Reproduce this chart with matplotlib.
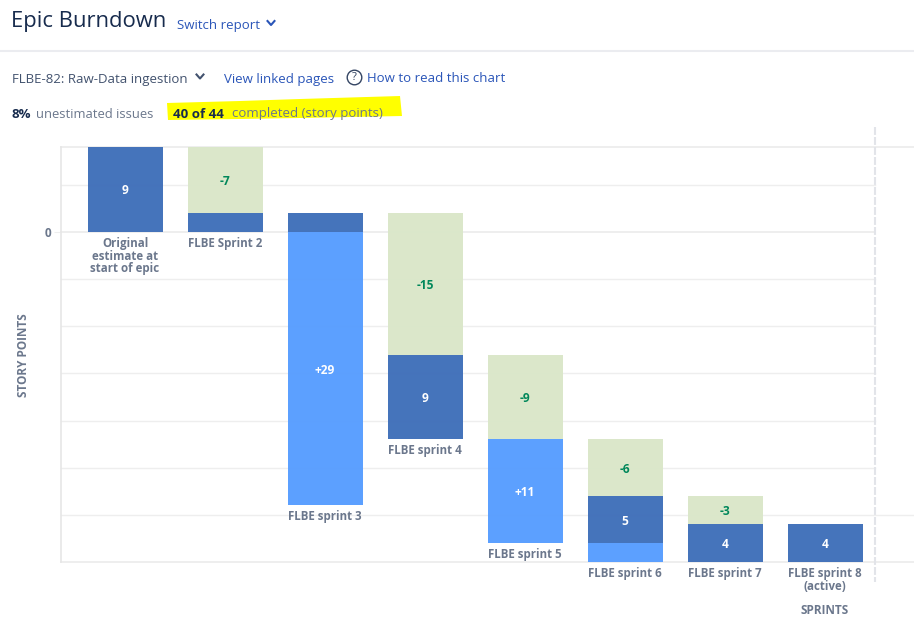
"""
Epic burndown report, waterfall of story points per sprint
"""
import matplotlib
matplotlib.use('Agg')
import matplotlib.pyplot as plt
from matplotlib.patches import Polygon
from matplotlib.lines import Line2D

W, H = 914, 627

categories = ['Original\nestimate at\nstart of epic', 'FLBE Sprint 2', 'FLBE sprint 3',
              'FLBE sprint 4', 'FLBE sprint 5', 'FLBE sprint 6', 'FLBE sprint 7',
              'FLBE sprint 8\n(active)']
top_level = [9, 9, 2, 2, -13, -22, -28, -31]
done = [0, 7, 0, 15, 9, 6, 3, 0]
remaining = [9, 2, 2, 9, 0, 5, 4, 4]
added = [0, 0, 29, 0, 11, 2, 0, 0]
y_ticks = [9, 5, 0, -5, -10, -15, -20, -25, -30, -35]

DARK = '#3f6fb9'
LIGHT = '#579dff'
GREEN = '#dae7c9'
GREEN_TXT = '#00875a'
GREY = '#6b778c'
GRID = '#eeeeee'
LINK = '#2a55b8'
NAVY = '#172b4d'
FONT = 'Open Sans'
MIN_LABEL = 3


def px(x, y):
    """ pixel position, from the top left, to figure fraction """
    return x / W, 1 - y / H


def add_text(fig, x, y, s, **kwargs):
    kwargs.setdefault('va', 'center')
    kwargs.setdefault('family', FONT)
    return fig.text(*px(x, y), s, **kwargs)


def chevron(fig, x, y, color):
    pts = [px(x - 3.5, y - 2), px(x, y + 2), px(x + 3.5, y - 2)]
    fig.add_artist(Line2D([p[0] for p in pts], [p[1] for p in pts], color=color, lw=1.5))


def header(fig):
    add_text(fig, 11, 21, 'Epic Burndown', fontsize=15.8, color=NAVY)
    add_text(fig, 177, 25, 'Switch report', fontsize=9.5, color=LINK)
    chevron(fig, 271, 23, LINK)
    fig.add_artist(Line2D([0, 1], [1 - 51 / H] * 2, color='#ebecf0', lw=1.5))

    add_text(fig, 12, 79, 'FLBE-82: Raw-Data ingestion', fontsize=9.5, color='#42526e')
    chevron(fig, 200, 76.5, '#42526e')
    add_text(fig, 224, 79, 'View linked pages', fontsize=9.5, color=LINK)
    x, y = px(354, 77)
    fig.add_artist(Line2D([x], [y], marker='o', ms=10.5, mfc='none', mec='#344563', mew=1.0))
    add_text(fig, 354, 77, '?', fontsize=8, color='#344563', ha='center')
    add_text(fig, 367, 78, 'How to read this chart', fontsize=9.5, color=LINK)

    highlight = [(167, 103), (240, 101), (300, 99), (400, 96), (402, 116), (300, 118),
                 (240, 119), (168, 120)]
    fig.add_artist(Polygon([px(*p) for p in highlight], transform=fig.transFigure,
                           color='#ffff00', lw=0))
    add_text(fig, 11, 114, '8%', fontsize=9.5, color=NAVY, weight='bold')
    add_text(fig, 36, 114, 'unestimated issues', fontsize=9.4, color=GREY)
    add_text(fig, 173, 114, '40 of 44', fontsize=9.5, color=NAVY, weight='bold')
    add_text(fig, 232, 114, 'completed (story points)', fontsize=9.5, color=GREY)


def plot_bars(ax):
    for i, label in enumerate(categories):
        level = top_level[i]
        segments = [(done[i], GREEN, GREEN_TXT, f'-{done[i]}'),
                    (remaining[i], DARK, 'white', f'{remaining[i]}'),
                    (added[i], LIGHT, 'white', f'+{added[i]}')]
        for value, color, txt_color, txt in segments:
            if value == 0:
                continue
            ax.bar(i, -value, bottom=level, width=0.75, color=color, alpha=0.97, zorder=2)
            if value >= MIN_LABEL:
                ax.text(i, level - value / 2, txt, color=txt_color, ha='center',
                        va='center_baseline', fontsize=8.6, weight='bold', family=FONT,
                        zorder=3)
            level -= value
        ax.annotate(label, (i, level), xytext=(0, -3.6), textcoords='offset points',
                    ha='center', va='top', fontsize=8.3, weight='bold', family=FONT,
                    color=GREY, linespacing=0.98, annotation_clip=False)


fig = plt.figure(figsize=(W / 100, H / 100), dpi=100)
header(fig)

ax = fig.add_axes([61 / W, 1 - 562 / H, (W - 61) / W, (562 - 147) / H])
ax.set_xlim(-0.64, 7.89)
ax.set_ylim(-35, 9)
ax.patch.set_alpha(0)
for side in ('top', 'right', 'bottom'):
    ax.spines[side].set_visible(False)
ax.spines['left'].set_color('#e6e6e6')
ax.spines['left'].set_linewidth(1.2)

ax.set_yticks([0], ['0'], fontsize=8.5, family=FONT, weight='bold', color=GREY)
ax.tick_params(axis='y', length=5, color=GRID, pad=2)
ax.set_xticks([])

for tick in y_ticks:
    ends_at_marker = tick not in (9, -30, -35)
    ax.plot([-0.64, 7.5 if ends_at_marker else 7.89], [tick, tick], color=GRID,
            lw=1.4 if tick in (9, 0, -35) else 1.0, zorder=1, clip_on=False)

plot_bars(ax)

ax.plot([7.5, 7.5], [11.1, -37.1], color='#e2e4e9', lw=1.5, ls=(0, (3.8, 1.0)),
        clip_on=False, zorder=4)

add_text(fig, 24, 355, 'STORY POINTS', fontsize=8.5, weight='bold', color=GREY,
         rotation=90, ha='center')
add_text(fig, 825, 610, 'SPRINTS', fontsize=8.5, weight='bold', color=GREY, ha='center')

fig.savefig('out.png', dpi=100)
